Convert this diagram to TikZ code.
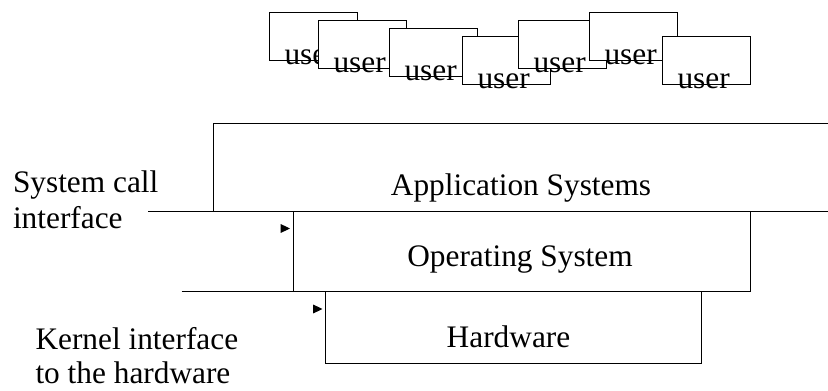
\documentclass[tikz,border=0pt]{standalone}
\usepackage{fontspec}
\setmainfont{Liberation Serif}
\usetikzlibrary{arrows.meta}
\tikzset{
 userbox/.style={draw, fill=white, anchor=north west, inner sep=0pt, minimum width=66pt, minimum height=36pt},
 lbl/.style={font=\fontsize{23.5}{27}\selectfont, inner sep=0pt}
}
\begin{document}
\begin{tikzpicture}[x=0.75pt, y=-0.75pt, line width=0.75pt, >={Triangle[length=7pt, width=6.5pt]}]
 \useasboundingbox (0,0) rectangle (828,391);
 \foreach \i/\x/\y in {1/269/12, 2/318/20, 3/389/28, 4/462/36, 5/518/20, 6/589/12, 7/662/36} {
  \node[userbox] (u\i) at (\x,\y) {};
  \node[lbl, anchor=base west] (user\i) at ({\x+15},{\y+53}) {user};
 }
 \draw (828,124) -- (213,124) -- (213,212);
 \draw (148,212) -- (828,212);
 \node[lbl, anchor=base] (app) at (521,196) {Application Systems};
 \draw (293.5,212) -- (293.5,292) -- (750,292) -- (750,212);
 \draw (181.5,292) -- (750,292);
 \node[lbl, anchor=base] (os) at (520,266.5) {Operating System};
 \draw (325.5,292) -- (325.5,364) -- (701.5,364) -- (701.5,292);
 \node[lbl, anchor=base] (hw) at (508.5,348) {Hardware};
 \node[lbl, anchor=base west, align=left] (syscall) at (12.5,229) {System call\\interface};
 \node[lbl, anchor=base west, align=left] (kernel) at (35,384) {Kernel interface\\[-1pt]to the hardware};
 \coordinate (sc0) at (280.5,228.5);
 \coordinate (sc1) at (290,228.5);
 \coordinate (ki0) at (313,309);
 \coordinate (ki1) at (322.5,309);
 \draw[->] (sc0) -- (sc1);
 \draw[->] (ki0) -- (ki1);
\end{tikzpicture}
\end{document}
